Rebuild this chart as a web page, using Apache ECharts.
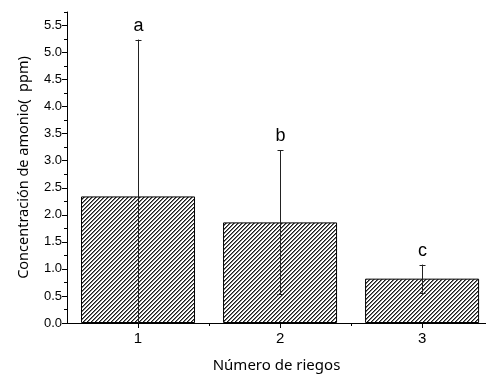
<!DOCTYPE html>
<html>
<head>
<meta charset="utf-8">
<script src="https://cdn.jsdelivr.net/npm/echarts@6/dist/echarts.min.js"></script>
<style>html,body{margin:0;padding:0;background:#fff}#c{width:486px;height:378px}</style>
</head>
<body>
<div id="c"></div>
<script>
const categories = [1, 2, 3];
const means = [2.34, 1.86, 0.82];
const errors = [2.90, 1.33, 0.26];
const letters = ['a', 'b', 'c'];
const yMajorTicks = [0, 0.5, 1, 1.5, 2, 2.5, 3, 3.5, 4, 4.5, 5, 5.5];
const yMinorTicks = [0.25, 0.75, 1.25, 1.75, 2.25, 2.75, 3.25, 3.75, 4.25, 4.75, 5.25, 5.75];
const xMajorTicks = [1, 2, 3];
const xMinorTicks = [1.5, 2.5];

// hatch pattern
const tile = document.createElement('canvas');
tile.width = 4; tile.height = 4;
const tctx = tile.getContext('2d');
const img = tctx.createImageData(4, 4);
const shades = [25, 120, 255, 255];
for (let y = 0; y < 4; y++) for (let x = 0; x < 4; x++) {
  const i = (y * 4 + x) * 4;
  const v = shades[(x + y) % 4];
  img.data[i] = v; img.data[i+1] = v; img.data[i+2] = v; img.data[i+3] = 255;
}
tctx.putImageData(img, 0, 0);

const barData = categories.map((c, i) => [c, means[i]]);
const errData = categories.map((c, i) => [c, means[i] - errors[i], means[i] + errors[i], letters[i]]);

const chart = echarts.init(document.getElementById('c'), null, {renderer: 'canvas'});
const axisFont = 'Liberation Sans';
const titleFont = 'Noto Sans';
chart.setOption({
  animation: false,
  grid: {left: 67, right: 0, top: 12, bottom: 52, containLabel: false},
  xAxis: [{
    type: 'value', min: 0.5, max: 3.45,
    axisLine: {show: true, lineStyle: {color: '#000', width: 1}},
    axisTick: {show: true, length: 5, customValues: xMajorTicks, lineStyle: {color: '#000'}},
    axisLabel: {customValues: xMajorTicks, fontFamily: axisFont, fontSize: 15, color: '#000', margin: 8},
    splitLine: {show: false},
    name: 'Número de riegos', nameLocation: 'middle', nameGap: 35,
    nameTextStyle: {fontFamily: titleFont, fontSize: 15, color: '#000'}
  }, {
    type: 'value', min: 0.5, max: 3.45, position: 'bottom',
    axisLine: {show: false},
    axisTick: {show: true, length: 3, customValues: xMinorTicks, lineStyle: {color: '#000'}},
    axisLabel: {show: false}, splitLine: {show: false}
  }],
  yAxis: [{
    type: 'value', min: 0, max: 5.75,
    axisLine: {show: true, lineStyle: {color: '#000', width: 1}},
    axisTick: {show: true, length: 5, customValues: yMajorTicks, lineStyle: {color: '#000'}},
    axisLabel: {customValues: yMajorTicks, fontFamily: axisFont, fontSize: 13, color: '#000', margin: 5,
      formatter: v => v.toFixed(1)},
    splitLine: {show: false},
    name: 'Concentración de amonio(  ppm)', nameLocation: 'middle', nameGap: 36, nameRotate: 90,
    nameTextStyle: {fontFamily: titleFont, fontSize: 14.5, color: '#000'}
  }, {
    type: 'value', min: 0, max: 5.75, position: 'left',
    axisLine: {show: false},
    axisTick: {show: true, length: 3, customValues: yMinorTicks, lineStyle: {color: '#000'}},
    axisLabel: {show: false}, splitLine: {show: false}
  }],
  series: [{
    type: 'bar',
    data: barData,
    barWidth: 114,
    itemStyle: {color: {image: tile, repeat: 'repeat'}, borderColor: '#000', borderWidth: 1}
  }, {
    type: 'custom',
    data: errData,
    z: 5,
    renderItem: function (params, api) {
      const x = api.value(0);
      const lo = api.value(1), hi = api.value(2);
      const lc = Math.max(lo, 0);
      const pHi = api.coord([x, hi]);
      const pLo = api.coord([x, lc]);
      const cap = 3;
      const px = Math.round(pHi[0]) + 0.5;
      const children = [
        {type: 'line', shape: {x1: px, y1: pHi[1], x2: px, y2: pLo[1]}, style: {stroke: '#222', lineWidth: 1}},
        {type: 'line', shape: {x1: px - cap, y1: Math.round(pHi[1]) + 0.5, x2: px + cap, y2: Math.round(pHi[1]) + 0.5}, style: {stroke: '#222', lineWidth: 1}},
        {type: 'text', x: px, y: pHi[1] - 5, style: {text: api.value(3), fontFamily: axisFont, fontSize: 18, fill: '#000', align: 'center', verticalAlign: 'bottom'}}
      ];
      if (lo >= 0) {
        children.push({type: 'line', shape: {x1: px - cap, y1: Math.round(pLo[1]) + 0.5, x2: px + cap, y2: Math.round(pLo[1]) + 0.5}, style: {stroke: '#222', lineWidth: 1}});
      }
      return {type: 'group', children: children};
    }
  }]
});
</script>
</body>
</html>
